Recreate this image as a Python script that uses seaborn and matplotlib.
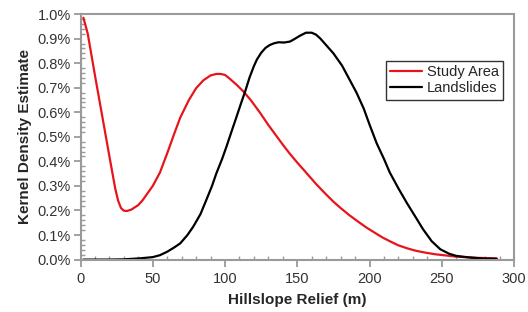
import numpy as np
import pandas as pd
import matplotlib
matplotlib.use('Agg')
import matplotlib.pyplot as plt
from matplotlib.ticker import PercentFormatter, MultipleLocator
import seaborn as sns

# Kernel density estimates (values in %)
relief_study = [2, 5, 10, 15, 20, 24, 26, 28, 30, 32, 35, 40, 43, 50, 55, 60, 65, 69, 75, 80,
                85, 90, 94, 97, 100, 103, 108, 113, 118, 124, 130, 135, 140, 145, 150, 156,
                163, 170, 175, 180, 186, 192, 198, 204, 209, 215, 220, 226, 232, 238, 245,
                251, 260, 275, 288]
density_study = [0.985, 0.92, 0.75, 0.585, 0.42, 0.29, 0.24, 0.21, 0.199, 0.198, 0.203,
                 0.222, 0.242, 0.30, 0.355, 0.433, 0.515, 0.578, 0.65, 0.698,
                 0.73, 0.75, 0.756, 0.756, 0.752, 0.738, 0.712, 0.683, 0.648, 0.6, 0.548,
                 0.508, 0.468, 0.43, 0.395, 0.355, 0.308, 0.265, 0.236, 0.21, 0.181, 0.155,
                 0.13, 0.108, 0.09, 0.072, 0.058, 0.046, 0.036, 0.029, 0.022,
                 0.018, 0.012, 0.007, 0.005]

relief_slides = [2, 10, 20, 30, 41, 50, 55, 60, 65, 69, 74, 78, 83, 87, 91, 94, 98, 101, 105,
                 108, 111, 114, 117, 120, 122, 125, 128, 131, 134, 137, 141, 145, 148, 152,
                 156, 160, 163, 166, 169, 172, 175, 181, 186, 191, 196, 200, 205, 210, 214,
                 220, 226, 232, 237, 243, 249, 255, 260, 270, 280, 288]
density_slides = [0.0, 0.0, 0.0, 0.001, 0.005, 0.01, 0.018, 0.032, 0.05, 0.066, 0.1, 0.134,
                  0.185, 0.242, 0.3, 0.351, 0.41, 0.46, 0.53, 0.582, 0.635, 0.686, 0.742,
                  0.788, 0.814, 0.842, 0.862, 0.874, 0.881, 0.885, 0.884, 0.888, 0.898,
                  0.912, 0.924, 0.924, 0.916, 0.9, 0.88, 0.86, 0.84, 0.79, 0.735, 0.68,
                  0.615, 0.55, 0.473, 0.41, 0.355, 0.29, 0.229, 0.172, 0.124, 0.075, 0.042,
                  0.024, 0.015, 0.008, 0.004, 0.003]

df = pd.concat([
    pd.DataFrame({'relief': relief_study, 'density': density_study, 'group': 'Study Area'}),
    pd.DataFrame({'relief': relief_slides, 'density': density_slides, 'group': 'Landslides'}),
])

sns.set_style('white')
plt.rcParams['font.family'] = ['Liberation Sans', 'DejaVu Sans']

fig = plt.figure(figsize=(5.28, 3.12), dpi=100)
ax = fig.add_axes([0.1525, 0.168, 0.821, 0.787])

sns.lineplot(data=df, x='relief', y='density', hue='group',
             palette={'Study Area': '#e8141c', 'Landslides': '#000000'},
             linewidth=1.6, sort=False, ax=ax)

ax.set_xlim(0, 300)
ax.set_ylim(0, 1.0)
ax.xaxis.set_major_locator(MultipleLocator(50))
ax.xaxis.set_minor_locator(MultipleLocator(10))
ax.yaxis.set_major_locator(MultipleLocator(0.1))
ax.yaxis.set_minor_locator(MultipleLocator(0.02))
ax.yaxis.set_major_formatter(PercentFormatter(xmax=100, decimals=1))

gray = '#9a9a9a'
for s in ax.spines.values():
    s.set_color(gray)
    s.set_linewidth(1.5)
ax.tick_params(which='major', direction='out', length=5, width=1.3, color=gray,
               labelsize=10.5, labelcolor='#333333')
ax.tick_params(which='minor', direction='in', length=3, width=1.0, color=gray)
ax.tick_params(axis='x', which='major', pad=4)
ax.tick_params(axis='y', which='major', pad=2)
ax.tick_params(axis='both', which='both', bottom=True, left=True)

ax.set_xlabel('Hillslope Relief (m)', fontsize=11, fontweight='bold', labelpad=5)
ax.set_ylabel('Kernel Density Estimate', fontsize=11, fontweight='bold', labelpad=4)

leg = ax.legend(loc='upper right', bbox_to_anchor=(0.975, 0.81), fontsize=10.5,
                frameon=True, fancybox=False, handlelength=2.2, handletextpad=0.3,
                borderpad=0.3, labelspacing=0.15, borderaxespad=0)
leg.get_frame().set_edgecolor('black')
leg.get_frame().set_linewidth(1.0)

fig.savefig('out.png', dpi=100)
